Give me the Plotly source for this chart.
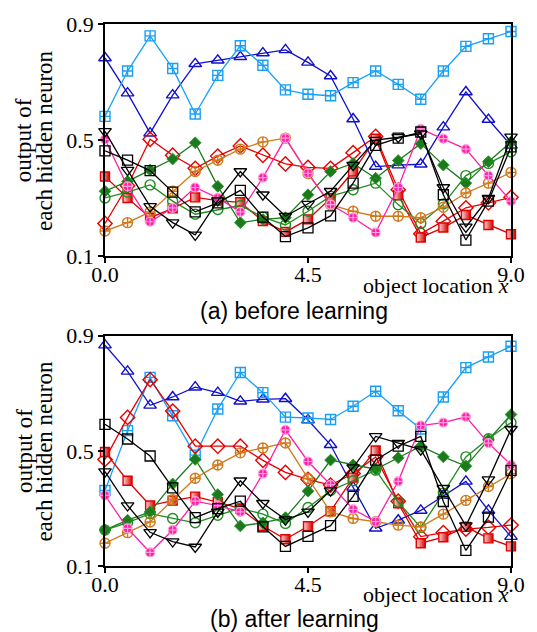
import plotly.graph_objects as go

x = [i * 0.5 for i in range(19)]

# ---- panel (a) before learning ----
a_blue = [0.783, 0.662, 0.524, 0.655, 0.763, 0.775, 0.787, 0.800, 0.811, 0.768, 0.721, 0.573, 0.409, 0.414, 0.417, 0.545, 0.666, 0.571, 0.482]
a_lblue = [0.582, 0.738, 0.859, 0.747, 0.590, 0.723, 0.825, 0.758, 0.673, 0.658, 0.653, 0.698, 0.738, 0.692, 0.641, 0.738, 0.823, 0.849, 0.874]
a_rdiam = [0.213, 0.343, 0.503, 0.448, 0.403, 0.445, 0.480, 0.448, 0.418, 0.406, 0.403, 0.457, 0.513, 0.329, 0.178, 0.221, 0.267, 0.284, 0.303]
a_rsq = [0.375, 0.301, 0.233, 0.265, 0.303, 0.292, 0.286, 0.221, 0.184, 0.227, 0.300, 0.392, 0.505, 0.310, 0.165, 0.199, 0.242, 0.208, 0.176]
a_gdiam = [0.324, 0.358, 0.397, 0.435, 0.491, 0.341, 0.216, 0.227, 0.233, 0.312, 0.392, 0.420, 0.369, 0.430, 0.488, 0.414, 0.352, 0.426, 0.494]
a_gcirc = [0.301, 0.321, 0.346, 0.290, 0.245, 0.261, 0.275, 0.235, 0.208, 0.255, 0.307, 0.329, 0.352, 0.278, 0.213, 0.280, 0.378, 0.420, 0.460]
a_orange = [0.187, 0.216, 0.253, 0.324, 0.392, 0.431, 0.469, 0.494, 0.507, 0.385, 0.278, 0.255, 0.238, 0.238, 0.233, 0.269, 0.318, 0.352, 0.389]
a_pink = [0.503, 0.341, 0.219, 0.267, 0.337, 0.301, 0.253, 0.371, 0.507, 0.386, 0.278, 0.233, 0.182, 0.337, 0.539, 0.505, 0.469, 0.378, 0.290]
a_ktri = [0.530, 0.397, 0.272, 0.216, 0.174, 0.292, 0.392, 0.312, 0.238, 0.280, 0.324, 0.414, 0.500, 0.510, 0.522, 0.337, 0.201, 0.300, 0.511]
a_ksq = [0.463, 0.431, 0.395, 0.321, 0.253, 0.284, 0.327, 0.235, 0.168, 0.198, 0.239, 0.352, 0.482, 0.507, 0.528, 0.312, 0.156, 0.290, 0.477]

# ---- panel (b) after learning ----
b_blue = [0.867, 0.776, 0.658, 0.687, 0.721, 0.702, 0.672, 0.679, 0.681, 0.607, 0.521, 0.373, 0.231, 0.259, 0.293, 0.345, 0.394, 0.293, 0.202]
b_lblue = [0.362, 0.570, 0.755, 0.622, 0.485, 0.645, 0.772, 0.702, 0.617, 0.614, 0.609, 0.655, 0.707, 0.639, 0.576, 0.687, 0.789, 0.826, 0.863]
b_rdiam = [0.470, 0.616, 0.747, 0.638, 0.516, 0.516, 0.516, 0.467, 0.425, 0.401, 0.381, 0.421, 0.479, 0.325, 0.202, 0.216, 0.228, 0.234, 0.242]
b_rsq = [0.496, 0.396, 0.310, 0.327, 0.341, 0.322, 0.299, 0.239, 0.193, 0.238, 0.290, 0.407, 0.501, 0.318, 0.179, 0.200, 0.236, 0.196, 0.168]
b_gdiam = [0.225, 0.259, 0.288, 0.385, 0.470, 0.348, 0.239, 0.250, 0.268, 0.360, 0.468, 0.451, 0.436, 0.476, 0.516, 0.479, 0.447, 0.538, 0.626]
b_gcirc = [0.225, 0.251, 0.282, 0.265, 0.250, 0.276, 0.301, 0.280, 0.248, 0.303, 0.362, 0.396, 0.433, 0.322, 0.234, 0.353, 0.479, 0.542, 0.598]
b_orange = [0.179, 0.216, 0.253, 0.330, 0.405, 0.451, 0.493, 0.510, 0.527, 0.404, 0.288, 0.265, 0.254, 0.242, 0.236, 0.280, 0.328, 0.376, 0.421]
b_pink = [0.345, 0.231, 0.147, 0.225, 0.325, 0.310, 0.288, 0.421, 0.573, 0.463, 0.382, 0.297, 0.254, 0.394, 0.588, 0.598, 0.618, 0.527, 0.451]
b_ktri = [0.428, 0.310, 0.217, 0.185, 0.166, 0.288, 0.396, 0.318, 0.261, 0.288, 0.362, 0.442, 0.550, 0.527, 0.504, 0.370, 0.240, 0.400, 0.575]
b_ksq = [0.592, 0.541, 0.482, 0.371, 0.268, 0.299, 0.325, 0.236, 0.168, 0.203, 0.240, 0.342, 0.468, 0.516, 0.550, 0.324, 0.154, 0.270, 0.432]

x_ticks = [0.0, 4.5, 9.0]
x_ticktext = ["0.0", "4.5", "9.0"]
y_ticks = [0.1, 0.5, 0.9]
y_ticktext = ["0.1", "0.5", "0.9"]

panel_a = [a_blue, a_lblue, a_rdiam, a_rsq, a_gdiam, a_gcirc, a_orange, a_pink, a_ktri, a_ksq]
panel_b = [b_blue, b_lblue, b_rdiam, b_rsq, b_gdiam, b_gcirc, b_orange, b_pink, b_ktri, b_ksq]

styles = [
    dict(line="#1010CC", marker=dict(symbol="triangle-up-open", size=11, color="#1010CC", line=dict(width=1.4, color="#1010CC"))),
    dict(line="#18A0F8", marker=dict(symbol="square-cross-open", size=10, color="#18A0F8", line=dict(width=1.4, color="#18A0F8"))),
    dict(line="#E80000", marker=dict(symbol="diamond-open", size=11, color="#E80000", line=dict(width=1.4, color="#E80000"))),
    dict(line="#E00000", marker=dict(symbol="square", size=9, color="#FFD8D8",
                                     gradient=dict(type="horizontal", color="#D80000"),
                                     line=dict(width=1.4, color="#E00000"))),
    dict(line="#1C7A1C", marker=dict(symbol="diamond", size=9, color="#1C7A1C", line=dict(width=1, color="#2E9A2E"))),
    dict(line="#1E8C1E", marker=dict(symbol="circle-open", size=10, color="#1E8C1E", line=dict(width=1.4, color="#1E8C1E"))),
    dict(line="#D07A1C", marker=dict(symbol="circle-cross-open", size=10, color="#D07A1C", line=dict(width=1.4, color="#D07A1C"))),
    dict(line="#FF20A8", marker=dict(symbol="circle-cross", size=9, color="#FF20A8", line=dict(width=1.2, color="#FFA0DA"))),
    dict(line="#000000", marker=dict(symbol="triangle-down-open", size=11, color="#000000", line=dict(width=1.3, color="#000000"))),
    dict(line="#000000", marker=dict(symbol="square-open", size=10, color="#000000", line=dict(width=1.3, color="#000000"))),
]

fig = go.Figure()
for panel, (xa, ya) in ((panel_a, ("x", "y")), (panel_b, ("x2", "y2"))):
    for vals, st in zip(panel, styles):
        fig.add_trace(go.Scatter(
            x=x, y=vals, mode="lines+markers", xaxis=xa, yaxis=ya,
            line=dict(color=st["line"], width=1.3),
            marker=st["marker"], cliponaxis=False, showlegend=False,
        ))

serif = "Liberation Serif"
axis_common = dict(showline=True, linecolor="black", linewidth=1.5, mirror=True,
                   ticks="outside", ticklen=5, tickwidth=1.5, tickcolor="black",
                   showgrid=False, zeroline=False,
                   tickfont=dict(family=serif, size=22, color="black"))
x_common = dict(axis_common, ticklabelstandoff=-7)

fig.update_layout(
    width=537, height=632,
    margin=dict(l=105, r=17, t=17, b=66),
    plot_bgcolor="white", paper_bgcolor="white",
    xaxis=dict(domain=[0, 1], range=[0, 9], anchor="y", tickvals=x_ticks, ticktext=x_ticktext, **x_common),
    yaxis=dict(domain=[0.5714, 1], range=[0.1, 0.9], anchor="x", tickvals=y_ticks, ticktext=y_ticktext, **axis_common),
    xaxis2=dict(domain=[0, 1], range=[0, 9], anchor="y2", tickvals=x_ticks, ticktext=x_ticktext, **x_common),
    yaxis2=dict(domain=[0, 0.425], range=[0.1, 0.9], anchor="x2", tickvals=y_ticks, ticktext=y_ticktext, **axis_common),
)

sans = "Liberation Sans"
ytitle_font = dict(family=serif, size=23, color="black")
annots = [
    dict(x=1.0, y=0.518, text="object location <i>x</i>", xanchor="right", yanchor="middle",
         font=dict(family=serif, size=22, color="black")),
    dict(x=1.0, y=-0.053, text="object location <i>x</i>", xanchor="right", yanchor="middle",
         font=dict(family=serif, size=22, color="black")),
    dict(x=0.465, y=0.470, text="(a) before learning", xanchor="center", yanchor="middle",
         font=dict(family=sans, size=23, color="black")),
    dict(x=0.467, y=-0.098, text="(b) after learning", xanchor="center", yanchor="middle",
         font=dict(family=sans, size=23, color="black")),
    dict(x=-0.200, y=0.785, text="output of", textangle=-90, xanchor="center", yanchor="middle", font=ytitle_font),
    dict(x=-0.149, y=0.785, text="each hidden neuron", textangle=-90, xanchor="center", yanchor="middle", font=ytitle_font),
    dict(x=-0.200, y=0.212, text="output of", textangle=-90, xanchor="center", yanchor="middle", font=ytitle_font),
    dict(x=-0.149, y=0.212, text="each hidden neuron", textangle=-90, xanchor="center", yanchor="middle", font=ytitle_font),
]
for an in annots:
    fig.add_annotation(xref="paper", yref="paper", showarrow=False, **an)

fig.write_html(
    "out.html",
    config={"displayModeBar": False},
    post_script="document.body.style.margin='0';document.body.style.overflow='hidden';",
)
